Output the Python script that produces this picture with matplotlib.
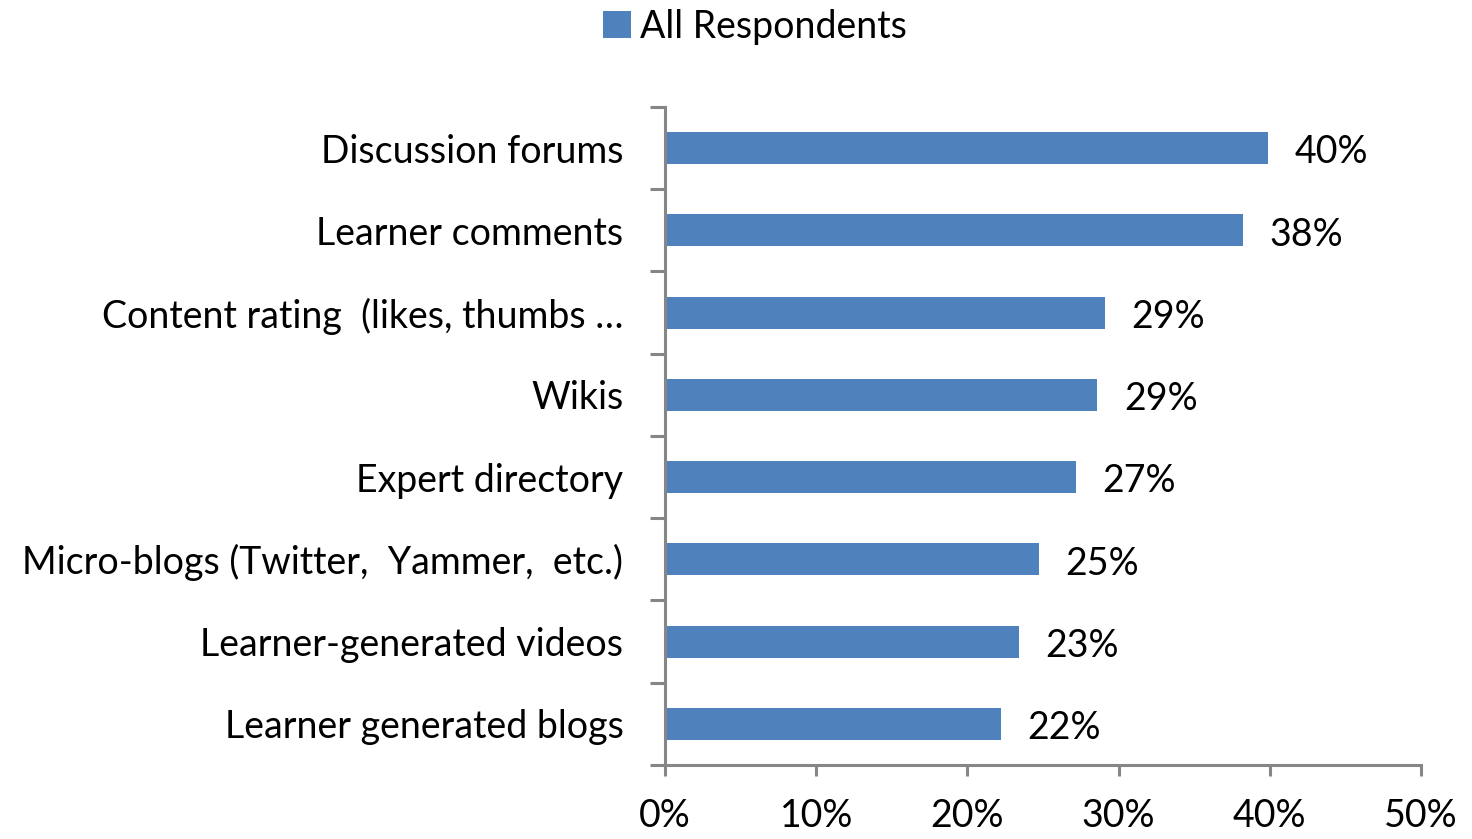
import matplotlib
matplotlib.use("Agg")
import matplotlib.pyplot as plt
from matplotlib.ticker import FixedLocator, PercentFormatter

plt.rcParams['font.family'] = ['Lato', 'DejaVu Sans']

categories = [
    'Discussion forums',
    'Learner comments',
    'Content rating  (likes, thumbs \u2026',
    'Wikis',
    'Expert directory',
    'Micro-blogs (Twitter,  Yammer,  etc.)',
    'Learner-generated videos',
    'Learner generated blogs',
]
values = [39.9, 38.2, 29.1, 28.6, 27.2, 24.7, 23.4, 22.2]
x_ticks = [0, 10, 20, 30, 40, 50]

bar_color = '#4F81BD'
axis_color = '#868686'
fs = 27

fig = plt.figure(figsize=(14.72, 8.39), dpi=100)
ax = fig.add_axes([0.4518, 0.0882, 0.9654 - 0.4518, 0.8725 - 0.0882])

# first category on top
pos = list(range(len(categories)))[::-1]
bars = ax.barh(pos, values, height=0.39, color=bar_color, label='All Respondents')

for p, v in zip(pos, values):
    ax.annotate(f'{v:.0f}%', xy=(v, p), xytext=(19, -3), textcoords='offset points',
                ha='left', va='center', fontsize=fs, color='black')

ax.set_xlim(0, 50)
ax.set_ylim(-0.5, len(categories) - 0.5)

ax.set_xticks(x_ticks)
ax.xaxis.set_major_formatter(PercentFormatter(decimals=0))
ax.set_yticks(pos)
ax.set_yticklabels(categories)
ax.yaxis.set_minor_locator(FixedLocator([p + 0.5 for p in range(-1, len(categories))]))

ax.tick_params(axis='y', which='major', length=0, pad=30, labelsize=fs)
ax.tick_params(axis='y', which='minor', length=11, width=2.2, color=axis_color, direction='out')
ax.tick_params(axis='x', which='major', length=8, width=2.2, color=axis_color,
               direction='out', pad=16, labelsize=fs)

for side in ['top', 'right']:
    ax.spines[side].set_visible(False)
for side in ['left', 'bottom']:
    ax.spines[side].set_color(axis_color)
    ax.spines[side].set_linewidth(2.2)

fig.legend(handles=[bars], labels=['All Respondents'], loc='upper center',
           bbox_to_anchor=(0.513, 1.03), frameon=False, fontsize=fs,
           handlelength=0.75, handleheight=0.75, handletextpad=0.25)

fig.savefig('out.png', dpi=100)
